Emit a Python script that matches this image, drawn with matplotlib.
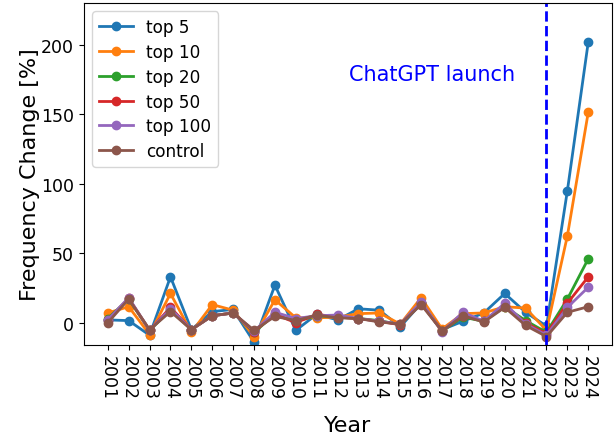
import numpy as np
import matplotlib
matplotlib.use("Agg")
import matplotlib.pyplot as plt

# Years on the x axis
years = list(range(2001, 2025))

# Frequency change [%] per group
top5 = [2, 1.5, -9, 33, -5, 8, 9.5, -14, 27, -5.5, 6, 2, 10, 9, -3, 14,
        -5, 1, 7, 21, 7.5, -2.5, 95, 202]
top10 = [7, 11.5, -8.5, 21, -7, 13, 9, -10, 16.5, 3.5, 3.5, 4, 6.5, 7, -1, 18,
         -4.5, 6.5, 7, 11.5, 10.5, -5.5, 62.5, 151.5]
top20 = [3, 17, -5.5, 9, -5, 5, 7, -7, 6, 1, 5, 4, 3, 1.5, -1.5, 14,
         -6, 4, 1, 11.5, 1.5, -7, 17, 46]
top50 = [2, 17.5, -5.5, 11, -5, 5, 7, -6.5, 6, 0, 6, 4, 3, 1, -1.5, 14,
         -6, 5, 1, 12, 0, -8, 14, 33]
top100 = [2, 18, -5.5, 10, -5, 5, 7, -6, 7.5, 3, 5, 5.5, 3, 1, -1, 15,
          -6.5, 7.5, 1, 14, -1, -9, 11, 25.5]
control = [0, 17, -5, 8, -5, 5, 7, -5.5, 4.5, 1.5, 5.5, 3.5, 3, 0.5, -1, 13,
           -6, 5, 0.5, 11, -2, -10, 7.5, 11.5]

series = [top5, top10, top20, top50, top100, control]
labels = ["top 5", "top 10", "top 20", "top 50", "top 100", "control"]
launch_year = 2022

fig, ax = plt.subplots(figsize=(6.16, 4.39), dpi=100)
fig.subplots_adjust(left=0.136, right=0.994, top=0.991, bottom=0.212)

for vals, lab in zip(series, labels):
    ax.plot(years, vals, marker="o", markersize=6, linewidth=2, label=lab)

ax.axvline(launch_year, color="blue", linestyle="--", linewidth=2)
ax.text(2012.55, 179, "ChatGPT launch", color="blue", fontsize=15, va="center")

ax.set_xticks(years)
ax.set_xticklabels([str(y) for y in years], rotation=-90, fontsize=12.5)
ax.tick_params(axis="y", labelsize=12.5)
ax.set_ylim(-16, 230)
ax.set_xlabel("Year", fontsize=16, labelpad=12)
ax.set_ylabel("Frequency Change [%]", fontsize=16, labelpad=1)
ax.legend(loc="upper left", fontsize=12.2, labelspacing=0.4)

fig.savefig("out.png", dpi=100)
